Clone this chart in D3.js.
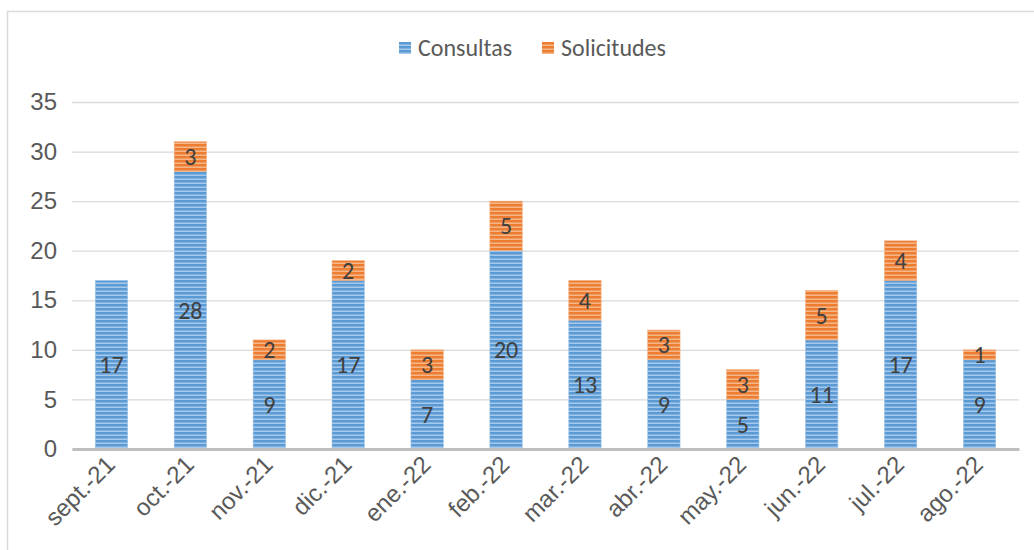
<!DOCTYPE html>
<html>
<head>
<meta charset="utf-8">
<script src="https://cdn.jsdelivr.net/npm/d3@7"></script>
<style>
  body { margin: 0; background: #fff; }
  svg { font-family: Calibri, Carlito, "Open Sans", sans-serif; }
</style>
</head>
<body>
<svg width="1034" height="550"></svg>
<script>
// data
const months = ['sept.-21', 'oct.-21', 'nov.-21', 'dic.-21', 'ene.-22', 'feb.-22',
                'mar.-22', 'abr.-22', 'may.-22', 'jun.-22', 'jul.-22', 'ago.-22'];
const consultas = [17, 28, 9, 17, 7, 20, 13, 9, 5, 11, 17, 9];
const solicitudes = [0, 3, 2, 2, 3, 5, 4, 3, 3, 5, 4, 1];
const seriesNames = ['Consultas', 'Solicitudes'];
const yTicks = [0, 5, 10, 15, 20, 25, 30, 35];

const rows = months.map((m, i) => ({ month: m, Consultas: consultas[i], Solicitudes: solicitudes[i] }));

const FS = 24;
const svg = d3.select('svg');

// outer chart frame
svg.append('rect')
    .attr('x', 7.5).attr('y', 11.5)
    .attr('width', 1040).attr('height', 560)
    .attr('fill', 'none').attr('stroke', '#d9d9d9').attr('stroke-width', 1.5);

// striped fills
const defs = svg.append('defs');
const fills = [
  { id: 'pat-blue', dark: '#5b9bd5', light: '#a6c8ea' },
  { id: 'pat-orange', dark: '#ed7d31', light: '#f5b68a' }
];
fills.forEach(f => {
  const p = defs.append('pattern')
      .attr('id', f.id)
      .attr('patternUnits', 'userSpaceOnUse')
      .attr('width', 8).attr('height', 4);
  p.append('rect').attr('width', 8).attr('height', 4).attr('fill', f.dark);
  p.append('rect').attr('y', 2.5).attr('width', 8).attr('height', 1.5).attr('fill', f.light);
});
const colorOf = { Consultas: 'url(#pat-blue)', Solicitudes: 'url(#pat-orange)' };
const edgeOf = { Consultas: '#9dc3e6', Solicitudes: '#f4b183' };

const x = d3.scaleBand()
    .domain(months)
    .range([72, 1019])
    .paddingInner(0.59)
    .paddingOuter(0.295);

const y = d3.scaleLinear()
    .domain([0, 35])
    .range([449, 102]);

// gridlines + y labels
const yAxis = svg.append('g')
    .attr('transform', 'translate(72,0)')
    .call(d3.axisLeft(y).tickValues(yTicks).tickSize(-947).tickPadding(15));
yAxis.select('.domain').remove();
yAxis.selectAll('.tick line').attr('stroke', '#d9d9d9').attr('stroke-width', 1.3);
yAxis.selectAll('.tick text')
    .attr('fill', '#595959')
    .attr('font-size', FS);

// stacked bars
const stack = d3.stack().keys(seriesNames)(rows);

const layers = svg.selectAll('.layer')
    .data(stack)
    .enter()
    .append('g')
    .classed('layer', true);

layers.selectAll('rect')
    .data(s => s.map(d => ({ key: s.key, d })))
    .enter()
    .append('rect')
    .attr('x', o => x(o.d.data.month))
    .attr('width', x.bandwidth())
    .attr('y', o => y(o.d[1]))
    .attr('height', o => y(o.d[0]) - y(o.d[1]))
    .attr('fill', o => colorOf[o.key])
    .attr('stroke', o => edgeOf[o.key])
    .attr('stroke-width', 0.6);

// data labels in the middle of each segment
layers.selectAll('text')
    .data(s => s.map(d => ({ key: s.key, d })).filter(o => o.d[1] - o.d[0] > 0))
    .enter()
    .append('text')
    .attr('x', o => x(o.d.data.month) + x.bandwidth() / 2)
    .attr('y', o => y((o.d[0] + o.d[1]) / 2))
    .attr('dy', '0.35em')
    .attr('text-anchor', 'middle')
    .attr('font-size', FS)
    .attr('fill', '#404040')
    .text(o => o.d[1] - o.d[0]);

// x axis
const xAxis = svg.append('g')
    .attr('transform', 'translate(0,449)')
    .call(d3.axisBottom(x).tickSize(0).tickPadding(0));
xAxis.select('.domain')
    .attr('stroke', '#bfbfbf').attr('stroke-width', 3);
xAxis.selectAll('.tick text')
    .attr('fill', '#595959')
    .attr('font-size', FS)
    .attr('text-anchor', 'end')
    .attr('dy', 0)
    .attr('transform', 'translate(5,17) rotate(-45)');

// legend
const legendItems = [
  { name: 'Consultas', x: 399 },
  { name: 'Solicitudes', x: 542 }
];
const legend = svg.selectAll('.legend')
    .data(legendItems)
    .enter()
    .append('g')
    .classed('legend', true)
    .attr('transform', d => `translate(${d.x},42)`);
legend.append('rect')
    .attr('width', 12).attr('height', 12)
    .attr('fill', d => colorOf[d.name]);
legend.append('text')
    .attr('x', 19).attr('y', 6)
    .attr('dy', '0.35em')
    .attr('font-size', FS)
    .attr('fill', '#595959')
    .text(d => d.name);
</script>
</body>
</html>
